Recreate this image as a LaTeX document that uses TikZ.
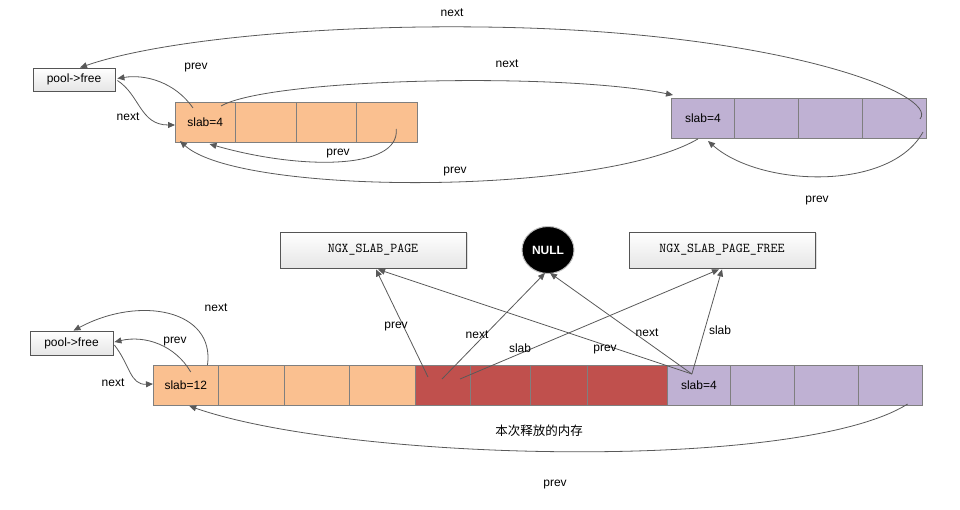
\documentclass[tikz,border=0pt]{standalone}
\usepackage{fontspec}
\setmainfont{Liberation Sans}
\newfontfamily\cjkfont{Noto Sans CJK SC}
\usetikzlibrary{arrows.meta,calc,shadows,shapes.geometric}
\definecolor{lineg}{HTML}{595959}
\definecolor{cellgray}{HTML}{7F7F7F}
\definecolor{boxgray}{HTML}{555555}
\definecolor{cellorange}{HTML}{FAC090}
\definecolor{cellpurple}{HTML}{BFB1D3}
\definecolor{cellred}{HTML}{C0504D}
\begin{document}
\begin{tikzpicture}[x=1pt,y=-1pt,
  lbl/.style={inner sep=0pt, font=\fontsize{12}{14}\selectfont},
  conn/.style={draw=lineg, line width=0.8pt, -{Triangle[length=7pt,width=6pt]}},
  cellbase/.style={anchor=north west, minimum height=40pt, inner sep=0pt, outer sep=0pt,
     draw=cellgray, line width=0.8pt, font=\fontsize{12}{14}\selectfont},
  ocell/.style={cellbase, fill=cellorange},
  pcell/.style={cellbase, fill=cellpurple},
  rcell/.style={cellbase, fill=cellred},
  freebox/.style={draw=boxgray, line width=0.8pt, top color=white, bottom color=gray!20,
     minimum width=82pt, minimum height=23pt, inner sep=0pt, font=\fontsize{12}{14}\selectfont},
  flagbox/.style={freebox, minimum width=186pt, minimum height=36pt,
     drop shadow={opacity=0.25, shadow xshift=1.5pt, shadow yshift=-1.5pt},
     font=\ttfamily\fontsize{13.5}{15}\selectfont},
  nullnode/.style={ellipse, fill=black, draw=gray!50, line width=1pt, minimum width=52pt,
     minimum height=47pt, inner sep=0pt, text=white, font=\bfseries\fontsize{12}{14}\selectfont}
]
\useasboundingbox (0,0) rectangle (960,510);

% ---------- top part ----------
\node[freebox] (pf1) at (74,79.5) {pool->free};

\node[ocell, minimum width=60.5pt] (tA1) at (175,102) {slab=4};
\node[ocell, minimum width=60.5pt] (tA2) at (235.5,102) {};
\node[ocell, minimum width=60.5pt] (tA3) at (296,102) {};
\node[ocell, minimum width=60.5pt] (tA4) at (356.5,102) {};

\node[pcell, minimum width=63.75pt] (tB1) at (671,98) {slab=4};
\node[pcell, minimum width=63.75pt] (tB2) at (734.75,98) {};
\node[pcell, minimum width=63.75pt] (tB3) at (798.5,98) {};
\node[pcell, minimum width=63.75pt] (tB4) at (862.25,98) {};

% next: purple -> pool->free (big arc)
\draw[conn] ($(tB4.east)+(-6,1)$) .. controls (940,95) and (780,30) .. (480,27)
   .. controls (320,25) and (160,40) .. ($(pf1.north)+(6,0)$);
% prev: slab=4 -> pool->free
\draw[conn] ($(tA1.north west)+(18,6)$) .. controls (175,82) and (145,74) .. ($(pf1.east)+(2,-1)$);
% next: pool->free -> slab=4
\draw[conn] ($(pf1.east)+(2,1)$) .. controls (140,95) and (140,125) .. ($(tA1.west)+(0,3)$);
% next: orange -> purple
\draw[conn] ($(tA1.north west)+(46,4)$) .. controls (270,78) and (560,72) .. ($(tB1.north west)+(2,-3)$);
% prev: orange last -> orange first
\draw[conn] ($(tA4.center)+(9.5,7)$) .. controls (400,170) and (300,170) .. ($(tA1.south east)+(-26,2)$);
% prev: purple -> orange
\draw[conn] ($(tB1.south)+(-5,1)$) .. controls (600,196) and (240,196) .. ($(tA1.south west)+(5,-1)$);
% prev: purple last -> purple first
\draw[conn] ($(tB4.south east)+(-3,-6)$) .. controls (890,192) and (760,187) .. ($(tB1.south west)+(37,3)$);

\node[lbl] (l1) at (452,13) {next};
\node[lbl] (l2) at (196,68) {prev};
\node[lbl] (l3) at (128,117) {next};
\node[lbl] (l4) at (507,64) {next};
\node[lbl] (l5) at (338,154) {prev};
\node[lbl] (l6) at (455,172) {prev};
\node[lbl] (l7) at (817,201) {prev};

% ---------- bottom part ----------
\node[flagbox] (np) at (373,250) {NGX\_SLAB\_PAGE};
\node[flagbox] (nf) at (722,250) {NGX\_SLAB\_PAGE\_FREE};
\node[nullnode] (nu) at (548,250) {NULL};

\node[freebox, minimum width=83pt, minimum height=24pt] (pf2) at (71.5,343) {pool->free};

\node[ocell, minimum width=65.5pt] (bO1) at (153,365) {slab=12};
\node[ocell, minimum width=65.5pt] (bO2) at (218.5,365) {};
\node[ocell, minimum width=65.5pt] (bO3) at (284,365) {};
\node[ocell, minimum width=65.5pt] (bO4) at (349.5,365) {};

\node[rcell, minimum width=55pt] (bR1) at (415,365) {};
\node[rcell, minimum width=60pt] (bR2) at (470,365) {};
\node[rcell, minimum width=57pt] (bR3) at (530,365) {};
\node[rcell, minimum width=80pt] (bR4) at (587,365) {};

\node[pcell, minimum width=63.75pt] (bP1) at (667,365) {slab=4};
\node[pcell, minimum width=63.75pt] (bP2) at (730.75,365) {};
\node[pcell, minimum width=63.75pt] (bP3) at (794.5,365) {};
\node[pcell, minimum width=63.75pt] (bP4) at (858.25,365) {};

% next: slab=12 -> pool->free
\draw[conn] ($(bO1.north east)+(-11,0)$) .. controls (215,310) and (140,295) .. ($(pf2.north)+(2,0)$);
% prev: slab=12 -> pool->free
\draw[conn] ($(bO1.center)+(5,-13)$) .. controls (175,345) and (145,335) .. ($(pf2.east)+(1,-1)$);
% next: pool->free -> slab=12
\draw[conn] ($(pf2.east)+(1,2)$) .. controls (130,365) and (130,385) .. ($(bO1.west)+(0,-1)$);

% red page pointers
\draw[conn] ($(bR1.center)+(-14.5,-8)$) -- ($(np.south)+(3,1)$);
\draw[conn] ($(bR1.center)+(-0.5,-6)$) -- ($(nu.south)+(-3,-1)$);
\draw[conn] ($(bR1.center)+(17.5,-6)$) -- ($(nf.south)+(-3,1)$);
% purple page pointers
\draw[conn] ($(bP1.center)+(-7,-11)$) -- ($(np.south)+(5,1)$);
\draw[conn] ($(bP1.center)+(-7,-11)$) -- ($(nu.south)+(2,-1)$);
\draw[conn] ($(bP1.center)+(-7,-11)$) -- ($(nf.south)+(0,1)$);

% prev: purple last -> slab=12
\draw[conn] ($(bP4.south)+(17.5,-1)$) .. controls (800,472) and (350,462) .. ($(bO1.south)+(3.5,1)$);

\node[lbl] (m1) at (216,308) {next};
\node[lbl] (m2) at (175,342) {prev};
\node[lbl] (m3) at (113,383) {next};
\node[lbl] (m4) at (396,327) {prev};
\node[lbl] (m5) at (477,335) {next};
\node[lbl] (m6) at (520,348) {slab};
\node[lbl] (m7) at (605,350) {prev};
\node[lbl] (m8) at (647,333) {next};
\node[lbl] (m9) at (720,330) {slab};
\node[lbl, font=\cjkfont\fontsize{12.5}{14}\selectfont] (m10) at (539,431) {本次释放的内存};
\node[lbl] (m11) at (555,485) {prev};
\end{tikzpicture}
\end{document}
